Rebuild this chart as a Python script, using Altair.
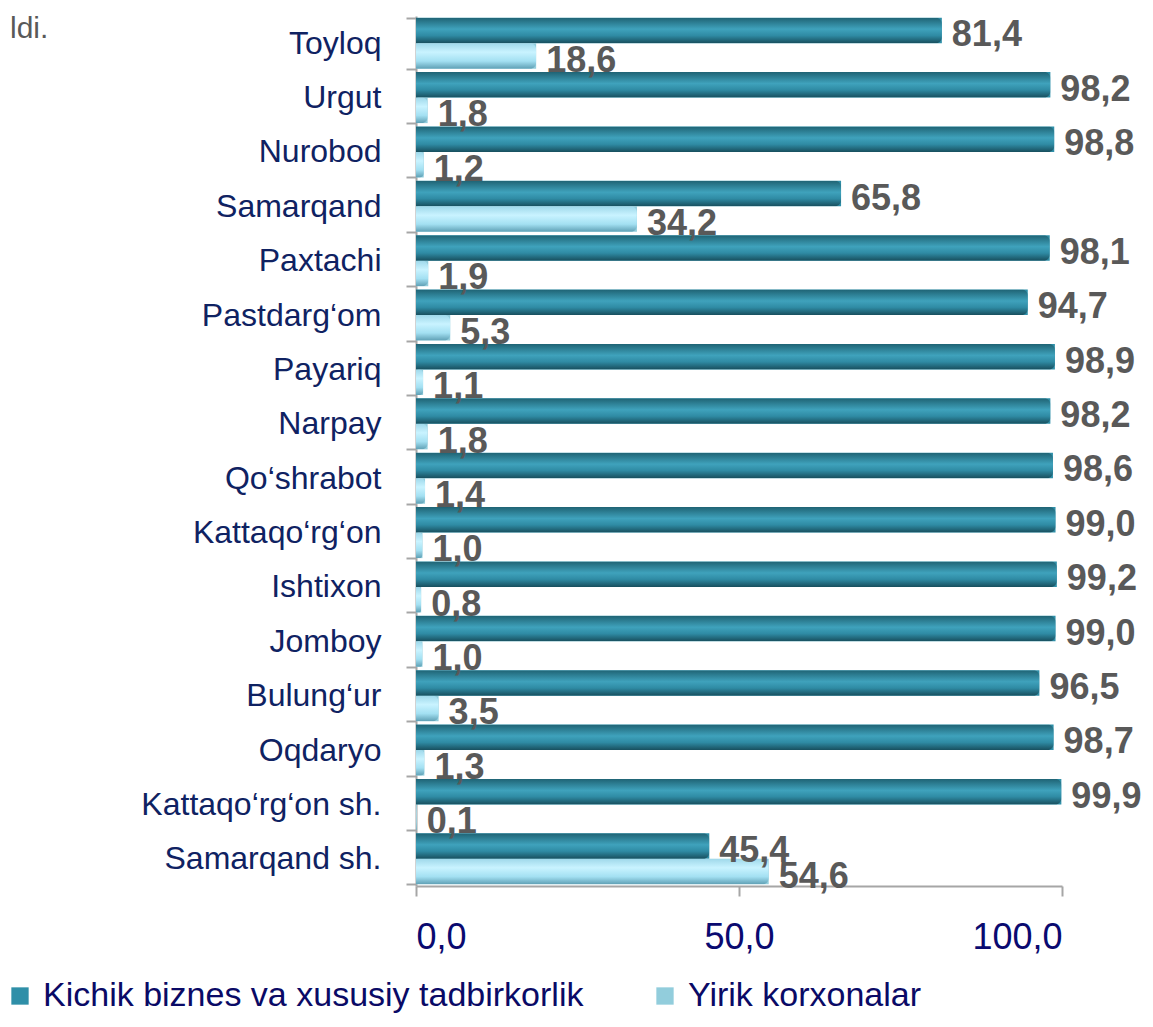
import altair as alt
import pandas as pd

categories = ["Toyloq", "Urgut", "Nurobod", "Samarqand", "Paxtachi", "Pastdarg‘om",
              "Payariq", "Narpay", "Qo‘shrabot", "Kattaqo‘rg‘on", "Ishtixon", "Jomboy",
              "Bulung‘ur", "Oqdaryo", "Kattaqo‘rg‘on  sh.", "Samarqand sh."]
small_business = [81.4, 98.2, 98.8, 65.8, 98.1, 94.7, 98.9, 98.2, 98.6, 99.0, 99.2, 99.0,
                  96.5, 98.7, 99.9, 45.4]
large_enterprises = [18.6, 1.8, 1.2, 34.2, 1.9, 5.3, 1.1, 1.8, 1.4, 1.0, 0.8, 1.0,
                     3.5, 1.3, 0.1, 54.6]
series_names = ["Kichik biznes va xususiy tadbirkorlik", "Yirik korxonalar"]
x_ticks = [0, 50, 100]

rows = []
for c, a, b in zip(categories, small_business, large_enterprises):
    rows.append({"cat": c, "series": series_names[0], "value": a,
                 "label": f"{a:.1f}".replace(".", ",")})
    rows.append({"cat": c, "series": series_names[1], "value": b,
                 "label": f"{b:.1f}".replace(".", ",")})
df = pd.DataFrame(rows)

FONT = "Liberation Sans"

grad_dark = alt.LinearGradient(
    gradient="linear", x1=0, y1=0, x2=0, y2=1,
    stops=[alt.GradientStop(color="#1F6374", offset=0),
           alt.GradientStop(color="#3FA2BC", offset=0.45),
           alt.GradientStop(color="#2F8BA4", offset=0.7),
           alt.GradientStop(color="#184F5E", offset=1)])
grad_light = alt.LinearGradient(
    gradient="linear", x1=0, y1=0, x2=0, y2=1,
    stops=[alt.GradientStop(color="#9FD8EA", offset=0),
           alt.GradientStop(color="#C9F3FF", offset=0.35),
           alt.GradientStop(color="#A3E0F2", offset=0.7),
           alt.GradientStop(color="#5E9FB4", offset=1)])

y_enc = alt.Y("cat:N", sort=categories, title=None,
              scale=alt.Scale(paddingInner=0.06, paddingOuter=0.03),
              axis=alt.Axis(labelFont=FONT, labelFontSize=32, labelColor="#0F2262",
                            labelPadding=25, tickBand="extent", tickSize=10,
                            tickColor="#A6A6A6", domainColor="#A6A6A6", domainWidth=2,
                            tickWidth=2, labelLimit=400))
yoff = alt.YOffset("series:N", sort=series_names)
x_enc = alt.X("value:Q", title=None,
              scale=alt.Scale(domain=[0, 100], nice=False),
              axis=alt.Axis(values=x_ticks, grid=False, labelFont=FONT, labelFontSize=36,
                            labelColor="#0A0A70", labelPadding=24, tickSize=10,
                            tickColor="#A6A6A6", domainColor="#A6A6A6", domainWidth=2,
                            tickWidth=2,
                            labelExpr="replace(format(datum.value, '.1f'), '.', ',')"))

base = alt.Chart(df)

bars = base.mark_bar().encode(
    y=y_enc, yOffset=yoff, x=x_enc,
    color=alt.Color("series:N", sort=series_names,
                    scale=alt.Scale(domain=series_names, range=["#2F8FA8", "#92CDDC"]),
                    legend=alt.Legend(title=None, orient="none", direction="horizontal",
                                      legendX=-413, legendY=963, padding=0,
                                      symbolType="square",
                                      symbolSize=300, symbolStrokeWidth=0,
                                      labelFont=FONT, labelFontSize=34, labelOffset=6,
                                      labelColor="#0A0A66", columnPadding=64,
                                      labelLimit=800, symbolOpacity=1)))

shade = base.mark_bar(cornerRadiusEnd=6).encode(
    y=y_enc, yOffset=yoff, x=x_enc,
    fill=alt.condition(alt.datum.series == series_names[0],
                       alt.value(grad_dark), alt.value(grad_light)))

labels = base.mark_text(align="left", baseline="middle", dx=10, dy=5,
                        font=FONT, fontSize=36, fontWeight="bold", color="#595959").encode(
    y=y_enc, yOffset=yoff, x=x_enc, text="label:N")

stray = alt.Chart(pd.DataFrame({"t": ["ldi."]})).mark_text(
    align="left", baseline="alphabetic", font=FONT, fontSize=30, color="#595959").encode(
    x=alt.value(-406), y=alt.value(22), text="t:N")

chart = alt.layer(bars, shade, labels, stray).properties(
    width=646, height=870,
    autosize=alt.AutoSizeParams(type="none"),
    padding={"left": 408, "top": 8, "right": 82, "bottom": 133}
).configure(background="white", view=alt.ViewConfig(stroke=None))

chart.save("out.html", embed_options={"renderer": "svg", "actions": False})
